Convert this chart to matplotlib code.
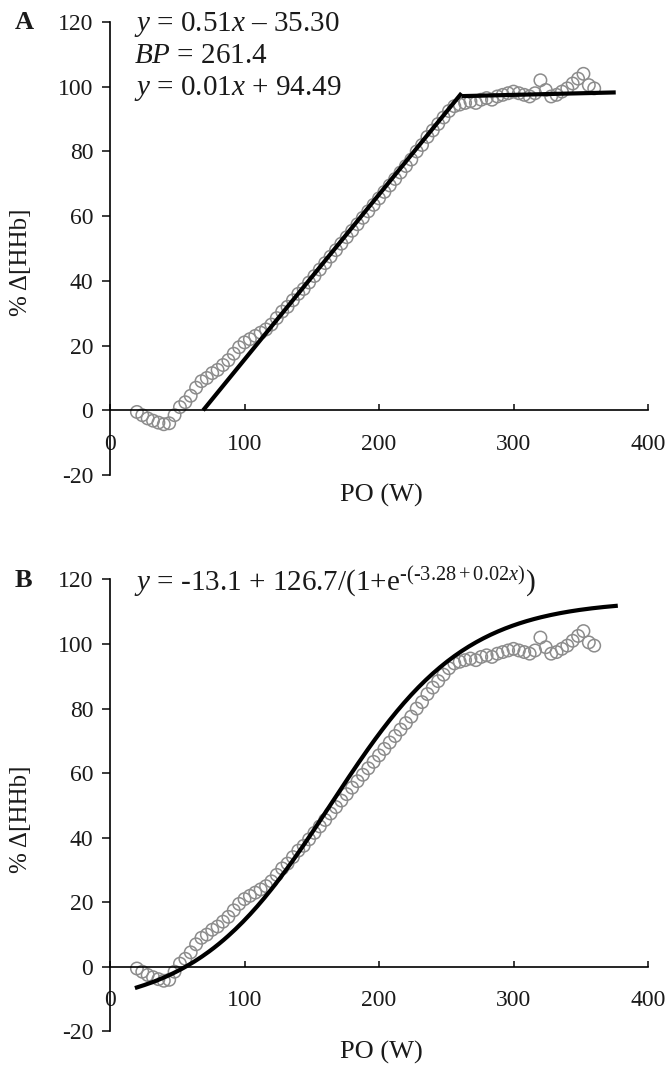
import numpy as np
import matplotlib.pyplot as plt

plt.rcParams['font.family'] = ['Liberation Serif', 'DejaVu Serif']
plt.rcParams['mathtext.fontset'] = 'custom'
plt.rcParams['mathtext.rm'] = 'Liberation Serif'
plt.rcParams['mathtext.it'] = 'Liberation Serif:italic'
plt.rcParams['axes.unicode_minus'] = False

po = [20, 24, 28, 32, 36, 40, 44, 48, 52, 56, 60, 64, 68, 72, 76, 80, 84, 88,
      92, 96, 100, 104, 108, 112, 116, 120, 124, 128, 132, 136, 140, 144, 148,
      152, 156, 160, 164, 168, 172, 176, 180, 184, 188, 192, 196, 200, 204,
      208, 212, 216, 220, 224, 228, 232, 236, 240, 244, 248, 252, 256, 260,
      264, 268, 272, 276, 280, 284, 288, 292, 296, 300, 304, 308, 312, 316,
      320, 324, 328, 332, 336, 340, 344, 348, 352, 356, 360]
hhb = [-0.5, -1.5, -2.5, -3.2, -3.8, -4.3, -4.0, -1.5, 1.0, 2.5, 4.5, 7.0,
       9.0, 10.0, 11.5, 12.5, 14.0, 15.5, 17.5, 19.5, 21.0, 22.0, 23.0, 24.0,
       25.0, 26.5, 28.5, 30.5, 32.0, 34.0, 36.0, 37.5, 39.5, 41.5, 43.5, 45.5,
       47.5, 49.5, 51.5, 53.5, 55.5, 57.5, 59.5, 61.5, 63.5, 65.5, 67.5, 69.5,
       71.5, 73.5, 75.5, 77.5, 80.0, 82.0, 84.5, 86.5, 88.5, 90.5, 92.5, 94.0,
       94.5, 95.0, 95.5, 95.0, 96.0, 96.5, 96.0, 97.0, 97.5, 98.0, 98.5, 98.0,
       97.5, 97.0, 98.0, 102.0, 99.0, 97.0, 97.5, 98.5, 99.5, 101.0, 102.5,
       104.0, 100.5, 99.5]

# fit parameters printed on the chart
slope1, icpt1 = 0.51, -35.30
bp = 261.4
slope2, icpt2 = 0.01, 94.49
a, b, c, d = -13.1, 126.7, -3.28, 0.02
x_end = 376

fig = plt.figure(figsize=(6.72, 10.75), dpi=100)
axA = fig.add_axes([0.1637, 0.5581, 0.8006, 0.4214])
axB = fig.add_axes([0.1637, 0.0405, 0.8006, 0.4205])

txt = '#1a1a1a'


def style(ax):
    ax.set_xlim(0, 400)
    ax.set_ylim(-20, 120)
    ax.spines['top'].set_visible(False)
    ax.spines['right'].set_visible(False)
    ax.spines['bottom'].set_position(('data', 0))
    ax.spines['left'].set_linewidth(1.2)
    ax.spines['bottom'].set_linewidth(1.2)
    ax.set_xticks([0, 100, 200, 300, 400])
    ax.set_yticks(range(-20, 121, 20))
    ax.tick_params(axis='x', direction='in', length=4, width=1.2, pad=17,
                   labelsize=17, colors=txt)
    ax.tick_params(axis='y', direction='out', length=6, width=1.2, pad=6,
                   labelsize=17, colors=txt)
    ax.scatter(po, hhb, s=80, facecolors='none', edgecolors='#8c8c8c',
               linewidths=1.1, zorder=2)
    ax.text(0.504, -0.046, 'PO (W)', transform=ax.transAxes, ha='center',
            va='center', fontsize=19, color=txt)
    ax.text(-0.165, 0.47, '%\u2009\u0394[HHb]', transform=ax.transAxes,
            ha='center', va='center', rotation=90, fontsize=18, color=txt)


style(axA)
style(axB)

# panel A: two-segment linear fit
x1 = np.array([-icpt1 / slope1, bp])
x2 = np.array([bp, x_end])
axA.plot(x1, slope1 * x1 + icpt1, color='black', lw=3, zorder=3,
         solid_capstyle='butt')
axA.plot(x2, slope2 * x2 + icpt2, color='black', lw=3, zorder=3,
         solid_capstyle='butt')
axA.text(0.045, 0.995, '$y$ = 0.51$x$ \u2013 35.30',
         transform=axA.transAxes, fontsize=21, va='center', color=txt)
axA.text(0.045, 0.924, '$BP$ = 261.4', transform=axA.transAxes, fontsize=21,
         va='center', color=txt)
axA.text(0.045, 0.853, '$y$ = 0.01$x$ + 94.49', transform=axA.transAxes,
         fontsize=21, va='center', color=txt)
axA.text(-0.16, 0.998, 'A', transform=axA.transAxes, fontsize=19,
         fontweight='bold', va='center', ha='center', color=txt)

# panel B: sigmoid fit
xs = np.linspace(20, x_end, 200)
axB.plot(xs, a + b / (1 + np.exp(-(c + d * xs))), color='black', lw=3,
         zorder=3)
axB.text(0.045, 0.995,
         '$y$ = -13.1 + 126.7/(1+e$^{\u2010(\u20103.28+0.02x)}$)',
         transform=axB.transAxes, fontsize=21, va='center', color=txt)
axB.text(-0.16, 0.998, 'B', transform=axB.transAxes, fontsize=19,
         fontweight='bold', va='center', ha='center', color=txt)

fig.savefig('out.png', dpi=100)
